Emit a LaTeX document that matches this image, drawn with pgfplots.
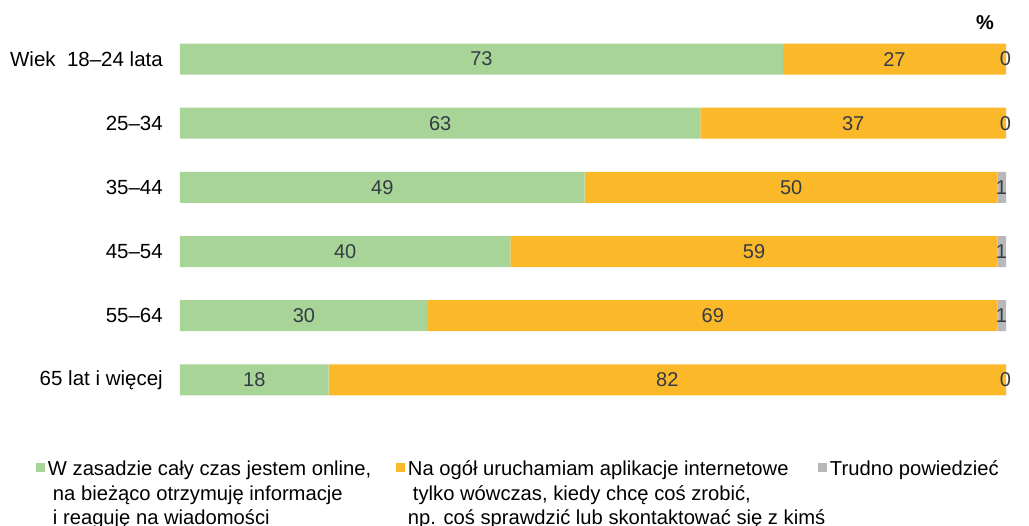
\documentclass[border=0pt]{standalone}
\usepackage{pgfplots}
\pgfplotsset{compat=1.18}
\usepackage{fontspec}
\setmainfont{Liberation Sans}
\definecolor{cgreen}{HTML}{A8D597}
\definecolor{corange}{HTML}{FBB829}
\definecolor{cgray}{HTML}{B8B8B8}
\definecolor{labtxt}{HTML}{333B45}
\begin{document}
\begin{tikzpicture}[x=1pt,y=1pt]
\useasboundingbox (0,0) rectangle (1029,526);
\begin{axis}[
  at={(180pt,114pt)}, anchor=south west,
  scale only axis, width=826pt, height=385pt,
  xbar stacked, bar width=31pt,
  xmin=0, xmax=100, ymin=-0.5, ymax=5.5, y dir=reverse,
  enlargelimits=false, clip=false,
  axis line style={draw=none},
  xtick=\empty,
  ytick={0,1,2,3,4,5},
  yticklabels={Wiek\ \ 18--24 lata,25--34,35--44,45--54,55--64,65 lat i więcej},
  major tick length=0pt,
  yticklabel style={font=\fontsize{20.5}{24}\selectfont, inner sep=0pt, xshift=-17pt, text=black},
  /pgf/number format/assume math mode=true,
  visualization depends on={rawx \as \rawx},
  every node near coord/.append style={anchor=center, font=\fontsize{20}{24}\selectfont, text=labtxt},
  legend columns=3,
  legend style={at={(-0.17433,-0.1273)}, anchor=north west, draw=none, fill=none,
    inner sep=0pt, outer sep=0pt, column sep=3pt,
    nodes={inner sep=0pt, outer sep=0pt},
    cells={anchor=north west},
    font=\fontsize{20.2}{24.5}\selectfont},
  legend image code/.code={\fill[#1] (0pt,-10.5pt) rectangle (9pt,-1.5pt);},
]
\addplot[fill=cgreen, draw=none, nodes near coords={\pgfmathprintnumber{\rawx}}] coordinates {(73,0) (63,1) (49,2) (40,3) (30,4) (18,5)};
\addplot[fill=corange, draw=none, nodes near coords={\pgfmathprintnumber{\rawx}}] coordinates {(27,0) (37,1) (50,2) (59,3) (69,4) (82,5)};
\addplot[fill=cgray, draw=none] coordinates {(0,0) (0,1) (1,2) (1,3) (1,4) (0,5)};
\addlegendentry{\parbox[t]{345pt}{\mbox{W zasadzie cały czas jestem online,}\\\mbox{\hspace*{5pt}na bieżąco otrzymuję informacje}\\\mbox{\hspace*{5pt}i reaguję na wiadomości}}}
\addlegendentry{\parbox[t]{407pt}{\mbox{Na ogół uruchamiam aplikacje internetowe}\\\mbox{\hspace*{5pt}tylko wówczas, kiedy chcę coś zrobić,}\\\mbox{np. coś sprawdzić lub skontaktować się z kimś}}}
\addlegendentry{\parbox[t]{190pt}{\mbox{Trudno powiedzieć}}}
\end{axis}
\begin{axis}[
  at={(180pt,114pt)}, anchor=south west,
  scale only axis, width=826pt, height=385pt,
  xmin=0, xmax=100, ymin=-0.5, ymax=5.5, y dir=reverse,
  enlargelimits=false, clip=false, hide axis,
]
\addplot[only marks, mark=none, nodes near coords, point meta=explicit symbolic,
  every node near coord/.append style={anchor=center, font=\fontsize{20}{24}\selectfont, text=labtxt}]
  coordinates {(99.94,0) [0] (99.94,1) [0] (99.45,2) [1] (99.45,3) [1] (99.45,4) [1] (99.94,5) [0]};
\end{axis}
\node[font=\fontsize{20}{24}\selectfont\bfseries] at (985,503) {\%};
\end{tikzpicture}
\end{document}
